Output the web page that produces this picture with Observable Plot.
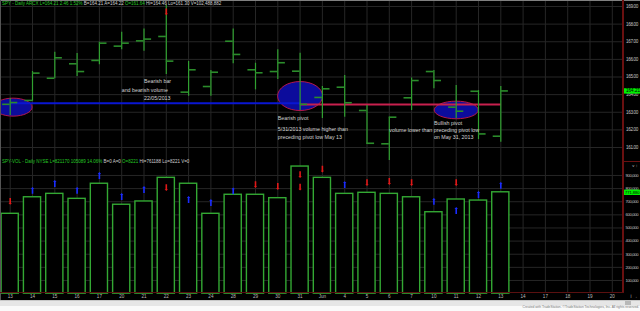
<!DOCTYPE html>
<html><head><meta charset="utf-8">
<script src="https://cdn.jsdelivr.net/npm/d3@7"></script>
<script src="https://cdn.jsdelivr.net/npm/@observablehq/plot@0.6"></script>
<style>
html,body{margin:0;padding:0;background:#000;width:640px;height:311px;overflow:hidden;}
#wrap{position:relative;width:640px;height:311px;background:#000;}
#price,#vol{display:block;height:auto;line-height:0;}
#price svg,#vol svg{display:block;overflow:visible;}
g[aria-label="y-axis tick label"] text{letter-spacing:-0.35px;}
.ov{position:absolute;white-space:nowrap;font-family:"Liberation Sans",Arial,sans-serif;line-height:1;}
.g{color:#25c825}.w{color:#cfcfcf}
</style></head><body><div id="wrap"><div id="price"></div><div id="vol"></div><div id="foot"></div></div>
<script>
// ---------- data ----------
const dateLabels = ["13","14","15","16","17","20","21","22","23","24","28","29","30","31","Jun","4","5","6","7","10","11","12","13","14","17","18","19","20"];
const opens  = [163.45,163.67,164.93,165.75,165.94,166.75,167.05,167.30,164.14,164.46,167.03,165.41,165.31,165.33,163.84,164.42,163.10,161.21,163.82,165.31,163.29,164.19,161.64];
const highs  = [163.78,165.31,166.41,166.33,166.97,167.54,167.73,169.07,165.88,165.37,167.73,165.78,166.54,166.35,164.46,165.09,163.38,162.72,164.95,165.37,164.52,164.23,164.46];
const lows   = [162.82,163.62,164.90,165.03,165.69,166.54,166.46,165.14,163.91,163.91,165.75,164.27,164.86,163.10,162.65,162.72,161.17,160.26,163.10,164.33,162.63,161.45,161.30];
const closes = [163.55,165.22,166.09,165.31,166.92,166.92,167.15,165.90,165.41,165.27,166.28,165.24,165.81,163.45,164.33,163.54,161.24,162.72,164.80,164.80,163.06,161.77,164.21];
const volumes = [608000,734000,760000,722000,837000,677000,702000,882000,837000,608000,753000,753000,727000,968000,882000,760000,768000,760000,734000,620000,717000,709000,771880];
// volume-panel arrow markers (bar index, direction, volume level)
const arrowBars = [0,1,2,3,4,5,6,7,8,9,10,11,12,13,13,14,15,16,17,18,19,20,20,21,22];
const arrowDirs = ["down","up","up","up","up","up","up","down","up","up","up","down","down","down","down","down","up","down","down","down","up","down","up","up","up"];
const arrowVols = [702000,786000,839000,786000,900000,740000,793000,808000,717000,694000,782000,831000,816000,907000,812000,949000,831000,846000,854000,846000,702000,846000,633000,755000,824000];
// price-panel marker
const markerBars = [7];
const markerPrices = [168.69];
// support / resistance lines
const lineStarts = [0, 13];
const lineEnds = [13, 22];
const lineLevels = [163.51, 163.44];
// highlight ellipses (centre date index, centre price)
const ellipseDates = [0.13, 13, 20];
const ellipsePrices = [163.29, 163.92, 163.13];
// annotations
const noteTexts = ["Bearish bar","and bearish volume","22/05/2013","Bearish pivot","5/31/2013 volume higher than","preceding pivot low May 13","Bullish pivot","volume lower than preceding pivot low","on May 31, 2013"];
const noteDates = [6,5,6,12,12,12,19,17,19];
const notePrices = [164.74,164.23,163.80,162.63,162.06,161.58,162.38,161.96,161.58];
const priceTicks = [161,162,163,164,165,166,167,168,169];
const volTicks = [100000,200000,300000,400000,500000,600000,700000,800000,900000];

// ---------- helpers ----------
const K = 0.5522847;
function ellipseSym(rx, ry) {
  return {draw(c) {
    c.moveTo(rx, 0);
    c.bezierCurveTo(rx, ry*K, rx*K, ry, 0, ry);
    c.bezierCurveTo(-rx*K, ry, -rx, ry*K, -rx, 0);
    c.bezierCurveTo(-rx, -ry*K, -rx*K, -ry, 0, -ry);
    c.bezierCurveTo(rx*K, -ry, rx, -ry*K, rx, 0);
    c.closePath();
  }};
}
function rectSym(w, h) {
  return {draw(c) { c.moveTo(-w/2,-h/2); c.lineTo(w/2,-h/2); c.lineTo(w/2,h/2); c.lineTo(-w/2,h/2); c.closePath(); }};
}
function arrowSym(dir) {
  const s = dir === "up" ? -1 : 1; // tip direction
  return {draw(c) {
    const hw = 0.8, hl = 1.8, L = 3.4;
    c.moveTo(-hw, -s*L); c.lineTo(hw, -s*L); c.lineTo(hw, s*(L-hl));
    c.lineTo(1.7, s*(L-hl)); c.lineTo(0, s*L); c.lineTo(-1.7, s*(L-hl));
    c.lineTo(-hw, s*(L-hl)); c.closePath();
  }};
}

const n = dateLabels.length;
const bars = opens.map((o,i) => ({i, open:o, high:highs[i], low:lows[i], close:closes[i]}));
const vols = volumes.map((v,i) => ({i, v}));
const arrows = arrowBars.map((b,k) => ({i:b, dir:arrowDirs[k], v:arrowVols[k]}));
const markers = markerBars.map((b,k) => ({i:b, p:markerPrices[k]}));
const lines = lineStarts.map((s,k) => ({s, e:lineEnds[k], y:lineLevels[k], k}));
const notes = noteTexts.map((t,k) => ({t, i:noteDates[k], p:notePrices[k]}));
const ells = ellipseDates.map((d,k) => ({i:d, p:ellipsePrices[k]}));

const xOpt = {type:"linear", domain:[0, n-1], range:[9.7, 611.8], axis:null};
const grid = "#262626";
const font = "Liberation Sans, Arial, sans-serif";
const barGreen = "#30a030", tickGreen = "#2b8c2b";
const ellFill = "#0c0c9c", ellStroke = "#b4174a";

const pricePlot = Plot.plot({
  width: 640, height: 161, marginTop: 0, marginLeft: 0, marginRight: 17, marginBottom: 0,
  x: xOpt,
  y: {domain:[161,169], range:[147,6], axis:null},
  style: {background:"#000", fontFamily: font, overflow:"visible"},
  marks: [
    Plot.ruleX(d3.range(n), {x: d=>d, stroke: grid}),
    Plot.ruleY(priceTicks, {y: d=>d, stroke: grid}),
    Plot.dot([ells[0]], {x:"i", y:"p", symbol: ellipseSym(19,9), fill: ellFill, stroke: ellStroke, strokeWidth: 1}),
    Plot.dot([ells[1]], {x:"i", y:"p", symbol: ellipseSym(22.5,14.5), fill: ellFill, stroke: ellStroke, strokeWidth: 1}),
    Plot.dot([ells[2]], {x:"i", y:"p", symbol: ellipseSym(22,8.8), fill: ellFill, stroke: ellStroke, strokeWidth: 1}),
    Plot.link(lines, {x1:"s", x2:"e", y1:"y", y2:"y", stroke: d => d.k === 0 ? "#0a16d2" : "#c8204e", strokeWidth: 2}),
    Plot.ruleX(bars, {x:"i", y1:"low", y2:"high", stroke: barGreen, strokeWidth: 1.2}),
    Plot.ruleY(bars, {y:"open", x1: d=>d.i-0.34, x2: d=>d.i, stroke: tickGreen, strokeWidth: 1.6}),
    Plot.ruleY(bars, {y:"close", x1: d=>d.i, x2: d=>d.i+0.34, stroke: tickGreen, strokeWidth: 1.6}),
    Plot.dot(markers, {x:"i", y:"p", symbol: arrowSym("down"), fill:"#e01818", stroke:"none"}),
    Plot.text(notes, {x:"i", y:"p", text:"t", textAnchor:"start", fill:"#d2d2d2", fontSize: 5.3}),
    Plot.axisY({ticks: priceTicks, anchor:"right", tickSize:0, tickPadding:2.5, tickFormat: d3.format(".2f"), fill:"#c4c4c4", fontSize:4.6, textAnchor:"start"}),
    Plot.dot([closes[closes.length-1]], {y: d=>d, frameAnchor:"right", dx: 8.5, symbol: rectSym(17,5.4), fill:"#00f000", stroke:"none"}),
    Plot.text([closes[closes.length-1]], {y: d=>d, frameAnchor:"right", dx: 2.5, textAnchor:"start", text: d=>d3.format(".2f")(d), fill:"#000", fontSize:4.6})
  ]
});
document.getElementById("price").appendChild(pricePlot);

const volPlot = Plot.plot({
  width: 640, height: 139, marginTop: 0, marginLeft: 0, marginRight: 17, marginBottom: 7,
  x: xOpt,
  y: {domain:[0,1000000], range:[132.1, 0.85], axis:null},
  style: {background:"#000", fontFamily: font, overflow:"visible"},
  marks: [
    Plot.ruleX(d3.range(n), {x: d=>d, stroke: grid}),
    Plot.ruleY(volTicks, {y: d=>d, stroke: grid}),
    Plot.rect(vols, {x1: d=>d.i-0.385, x2: d=>d.i+0.385, y1: 0, y2:"v", fill:"#000", stroke:"#33a833", strokeWidth:1.4}),
    Plot.dot(arrows.filter(d=>d.dir==="up"), {x:"i", y:"v", symbol: arrowSym("up"), fill:"#1a2cff", stroke:"none"}),
    Plot.dot(arrows.filter(d=>d.dir==="down"), {x:"i", y:"v", symbol: arrowSym("down"), fill:"#e01818", stroke:"none"}),
    Plot.axisX({ticks: d3.range(n), tickSize:0, tickPadding:1.5, tickFormat: i=>dateLabels[i], fill:"#b8b8b8", fontSize:4.6}),
    Plot.axisY({ticks: volTicks, anchor:"right", tickSize:0, tickPadding:2, tickFormat: d3.format(","), fill:"#c4c4c4", fontSize:4.2, textAnchor:"start"}),
    Plot.dot([volumes[volumes.length-1]], {y: d=>d, frameAnchor:"right", dx: 8.5, symbol: rectSym(17,5.4), fill:"#00f000", stroke:"none"}),
    Plot.text([volumes[volumes.length-1]], {y: d=>d, frameAnchor:"right", dx: 1.5, textAnchor:"start", text: d=>d3.format(",")(d), fill:"#000", fontSize:4.0})
  ]
});
document.getElementById("vol").appendChild(volPlot);

// ---------- overlays: headers, frame lines, footer ----------
const wrap = document.getElementById("wrap");
function div(style, html) { const d = document.createElement("div"); d.className = "ov"; d.setAttribute("style", style); if (html) d.innerHTML = html; wrap.appendChild(d); return d; }
const last = closes.length - 1;
div("left:2px;top:2.3px;font-size:4.5px;",
  `<span class="g">SPY - Daily ARCX L=${closes[last].toFixed(2)} 2.46 1.52%</span> <span class="w">B=164.21 A=164.22</span> <span class="g">O=${opens[last].toFixed(2)}</span> <span class="w">Hi=${highs[last].toFixed(2)} Lo=${lows[last].toFixed(2)} V=102,488,882</span>`);
div("left:2px;top:160px;font-size:4.5px;",
  `<span class="g">SPY-VOL - Daily NYSE L=821170 105089 14.06%</span> <span class="w">B=0 A=0</span> <span class="g">O=8221</span> <span class="w">Hi=761188 Lo=8221 V=0</span>`);
div("left:0;top:0;width:640px;height:1px;background:#808080;");
div("left:0;top:0;width:1px;height:300px;background:#555;");
div("left:622px;top:0;width:2px;height:293px;background:#6a1010;");
div("left:623px;top:160.5px;width:17px;height:1.5px;background:#6a1010;");
div("left:0;top:291.8px;width:624px;height:1.5px;background:#5a1010;");
div("left:0;top:300px;width:640px;height:6px;background:#e6e6e6;border-top:1px solid #c8c8c8;box-sizing:border-box;");
div("left:625px;top:301px;width:6px;height:3.5px;background:#b8b8b8;");
div("left:0;top:306px;width:640px;height:5px;background:#fafafa;");
div("right:1px;top:306.2px;font-size:3.3px;color:#777;", "Created with TradeStation. ©TradeStation Technologies, Inc. All rights reserved.");
</script></body></html>
